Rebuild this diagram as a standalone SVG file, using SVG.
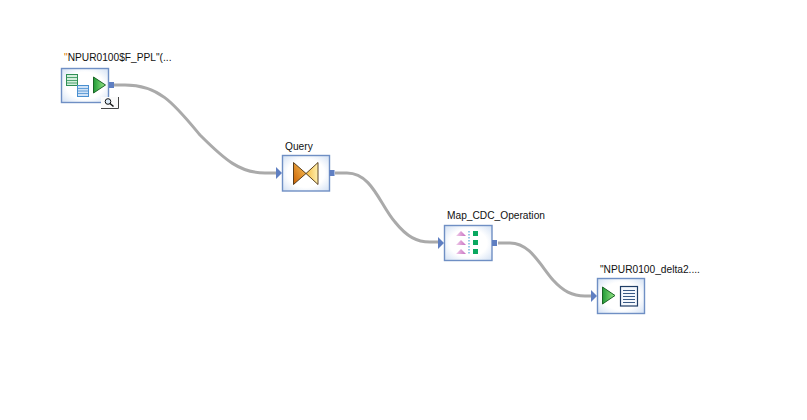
<svg xmlns="http://www.w3.org/2000/svg" width="807" height="420" viewBox="0 0 807 420">
<style>
text{font-family:"Liberation Sans",Arial,sans-serif;font-size:10.2px;fill:#111}
.box{fill:url(#boxfill);stroke:#6f8fc4;stroke-width:1.4}
.wire{fill:none;stroke:#aaaaaa;stroke-width:3}
.port{fill:#5f7fc2}
.tri{fill:url(#play);stroke:#1a6526;stroke-width:1}
.grid{fill:#d3efdc;stroke:#2f8f55;stroke-width:1}
.grid2{fill:#cfe2f7;stroke:#4a90d0;stroke-width:1}
.pink{fill:url(#pinkfill)}
.green{fill:#0aa860}
.doc{fill:#f4f8fd;stroke:#1f3d66;stroke-width:1.2}
.ln{stroke:#3a5a85;stroke-width:1}
</style>
<defs>
<radialGradient id="boxfill" cx="0.5" cy="0.5" r="0.72"><stop offset="0.55" stop-color="#ffffff"/><stop offset="1" stop-color="#cfdef3"/></radialGradient>
<linearGradient id="play" x1="0" y1="0" x2="1" y2="0"><stop offset="0" stop-color="#1f9a35"/><stop offset="1" stop-color="#9be88a"/></linearGradient>
<linearGradient id="bowL" x1="0" y1="1" x2="1" y2="0"><stop offset="0" stop-color="#c95f00"/><stop offset="1" stop-color="#fbc65e"/></linearGradient>
<linearGradient id="bowR" x1="0" y1="0" x2="1" y2="0"><stop offset="0" stop-color="#f6bd45"/><stop offset="1" stop-color="#fff0b0"/></linearGradient>
<linearGradient id="pinkfill" x1="0" y1="0" x2="1" y2="0"><stop offset="0" stop-color="#f0cdea"/><stop offset="1" stop-color="#c86fc0"/></linearGradient>
</defs>
<g id="connectors">
<path class="wire" d="M114 85H125C160 85 175 105 200 135C225 160 240 173 265 173H277"/>
<path class="wire" d="M335 173H347C372 173 380 205 395 222C407 237 417 242 430 242H440"/>
<path class="wire" d="M498 243H510C530 243 540 265 553 280C563 291 572 296 585 296H592"/>
</g>
<g id="source">
<rect class="box" x="61.500" y="68.500" width="47" height="34"/>
<rect class="grid" x="66.500" y="74.500" width="11" height="11"/>
<path d="M67 77.500H77M67 80.500H77M67 83H77" stroke="#2f8f55" stroke-width="0.8"/>
<rect class="grid2" x="77.500" y="85.500" width="11" height="11"/>
<path d="M78 88.500H88M78 91H88M78 93.500H88" stroke="#4a90d0" stroke-width="0.8"/>
<path class="tri" d="M93.500 77L105.500 85L93.500 93Z"/>
<rect class="port" x="109" y="82" width="5" height="6"/>
<rect x="101" y="97" width="17" height="11" fill="#fafafa"/>
<path d="M101 108.500H118.500V97" fill="none" stroke="#444" stroke-width="1"/>
<circle cx="108" cy="101.500" r="2.800" fill="#dcebf8" stroke="#111" stroke-width="1"/>
<path d="M110 103.500L113.500 106.500" stroke="#111" stroke-width="1.500"/>
<text x="64" y="61"><tspan fill="#d97a00">"</tspan>NPUR0100$F_PPL"(...</text>
</g>
<g id="query">
<rect class="box" x="282.500" y="155.500" width="47" height="35.500"/>
<path d="M293.500 162.500L306 173.500L293.500 184.500Z" fill="url(#bowL)" stroke="#4a3010" stroke-width="0.9"/>
<path d="M318 162.500L306 173.500L318 184.500Z" fill="url(#bowR)" stroke="#4a3010" stroke-width="0.9"/>
<rect class="port" x="329.500" y="170" width="5" height="6"/>
<path class="port" d="M276 167L282 173L276 179Z"/>
<text x="285" y="150">Query</text>
</g>
<g id="map_cdc">
<rect class="box" x="444.500" y="225.500" width="47.500" height="35"/>
<path class="pink" d="M461 231L456 236H466Z"/>
<path class="pink" d="M461 240L456 245H466Z"/>
<path class="pink" d="M461 249L456 254H466Z"/>
<path d="M469 231V255" stroke="#2f95d0" stroke-width="1" stroke-dasharray="1.500 1.500"/>
<rect class="green" x="473" y="231" width="5" height="5"/>
<rect class="green" x="473" y="240" width="5" height="5"/>
<rect class="green" x="473" y="249" width="5" height="5"/>
<rect class="port" x="492" y="240" width="5" height="6"/>
<path class="port" d="M438 237L444 243L438 249Z"/>
<text x="447" y="219">Map_CDC_Operation</text>
</g>
<g id="target">
<rect class="box" x="597.500" y="278.500" width="47" height="35"/>
<path class="tri" d="M602.500 287L615 295.500L602.500 304Z"/>
<rect class="doc" x="620.500" y="286.500" width="17" height="19.500"/>
<path class="ln" d="M623 290.500H635M623 293.500H635M623 296.500H635M623 299.500H635M623 302.500H635"/>
<path class="port" d="M591 290L597 296L591 302Z"/>
<text x="600" y="273">"NPUR0100_delta2....</text>
</g>
</svg>
